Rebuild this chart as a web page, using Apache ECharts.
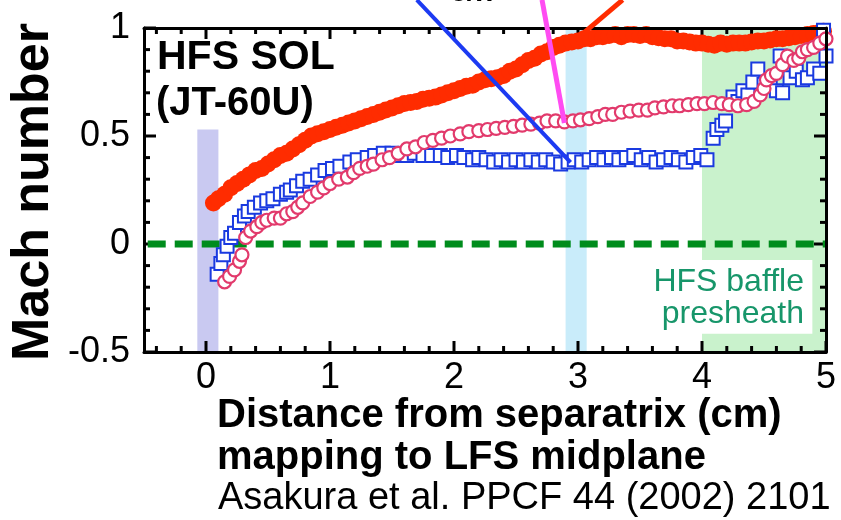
<!DOCTYPE html>
<html>
<head>
<meta charset="utf-8">
<script src="https://cdn.jsdelivr.net/npm/echarts@6/dist/echarts.min.js"></script>
<style>
html, body { margin: 0; padding: 0; background: #fff; }
#chart { width: 841px; height: 520px; }
</style>
</head>
<body>
<div id="chart"></div>
<script>
// Mach number profiles, HFS SOL (JT-60U)
var redFilled = [
    [0.06, 0.19], [0.10, 0.21], [0.15, 0.23], [0.20, 0.26], [0.25, 0.28], [0.30, 0.30],
    [0.35, 0.32], [0.40, 0.34], [0.45, 0.35], [0.50, 0.37], [0.55, 0.39], [0.60, 0.41],
    [0.65, 0.42], [0.70, 0.44], [0.75, 0.46], [0.80, 0.48], [0.85, 0.50], [0.90, 0.51],
    [0.95, 0.52], [1.00, 0.53], [1.05, 0.54], [1.10, 0.55], [1.15, 0.56], [1.20, 0.57],
    [1.25, 0.58], [1.30, 0.59], [1.35, 0.60], [1.40, 0.61], [1.45, 0.62], [1.50, 0.63],
    [1.55, 0.64], [1.60, 0.65], [1.65, 0.655], [1.70, 0.66], [1.75, 0.67], [1.80, 0.675],
    [1.85, 0.68], [1.90, 0.69], [1.95, 0.70], [2.00, 0.71], [2.05, 0.72], [2.10, 0.73],
    [2.15, 0.735], [2.20, 0.75], [2.25, 0.76], [2.30, 0.765], [2.35, 0.77], [2.40, 0.78],
    [2.45, 0.80], [2.50, 0.81], [2.55, 0.83], [2.60, 0.85], [2.65, 0.86], [2.70, 0.88],
    [2.75, 0.89], [2.80, 0.91], [2.85, 0.92], [2.90, 0.93], [2.95, 0.935], [3.00, 0.94],
    [3.05, 0.95], [3.10, 0.95], [3.15, 0.96], [3.20, 0.96], [3.25, 0.965], [3.30, 0.97],
    [3.35, 0.96], [3.40, 0.97], [3.45, 0.97], [3.50, 0.965], [3.55, 0.97], [3.60, 0.96],
    [3.65, 0.955], [3.70, 0.95], [3.75, 0.95], [3.80, 0.94], [3.85, 0.94], [3.90, 0.935],
    [3.95, 0.93], [4.00, 0.93], [4.05, 0.925], [4.10, 0.92], [4.15, 0.93], [4.20, 0.925],
    [4.25, 0.93], [4.30, 0.93], [4.35, 0.93], [4.40, 0.935], [4.45, 0.94], [4.50, 0.94],
    [4.55, 0.945], [4.60, 0.95], [4.65, 0.95], [4.70, 0.955], [4.75, 0.96], [4.80, 0.965],
    [4.85, 0.97], [4.90, 0.975], [4.95, 0.98], [4.98, 0.985]
];

var blueSquares = [
    [0.09, -0.14], [0.12, -0.09], [0.14, -0.05], [0.17, -0.01], [0.20, 0.03], [0.23, 0.05],
    [0.27, 0.10], [0.31, 0.13], [0.34, 0.15], [0.39, 0.17], [0.44, 0.19], [0.49, 0.20],
    [0.54, 0.21], [0.60, 0.23], [0.65, 0.24], [0.68, 0.25], [0.73, 0.27], [0.78, 0.29],
    [0.84, 0.30], [0.90, 0.32], [0.96, 0.34], [1.02, 0.35], [1.08, 0.36], [1.16, 0.38],
    [1.22, 0.39], [1.30, 0.40], [1.36, 0.41], [1.43, 0.42], [1.50, 0.42], [1.56, 0.41],
    [1.62, 0.41], [1.68, 0.42], [1.75, 0.41], [1.82, 0.41], [1.89, 0.41], [1.95, 0.40],
    [2.02, 0.41], [2.08, 0.40], [2.15, 0.39], [2.20, 0.40], [2.26, 0.39], [2.32, 0.38],
    [2.38, 0.39], [2.44, 0.38], [2.50, 0.39], [2.56, 0.38], [2.62, 0.39], [2.68, 0.38],
    [2.74, 0.39], [2.80, 0.38], [2.86, 0.37], [2.92, 0.38], [2.97, 0.39], [3.03, 0.38],
    [3.09, 0.39], [3.15, 0.40], [3.21, 0.39], [3.27, 0.40], [3.33, 0.39], [3.39, 0.40],
    [3.45, 0.41], [3.51, 0.39], [3.57, 0.40], [3.63, 0.38], [3.69, 0.39], [3.75, 0.40],
    [3.81, 0.39], [3.87, 0.38], [3.93, 0.40], [3.99, 0.41], [4.04, 0.39], [4.09, 0.49],
    [4.12, 0.53], [4.16, 0.55], [4.19, 0.57], [4.25, 0.68], [4.29, 0.66], [4.33, 0.71],
    [4.37, 0.69], [4.41, 0.75], [4.45, 0.81], [4.50, 0.74], [4.55, 0.73], [4.60, 0.71],
    [4.63, 0.87], [4.65, 0.70], [4.71, 0.77], [4.76, 0.80], [4.81, 0.76], [4.85, 0.77],
    [4.90, 0.81], [4.95, 0.79], [4.98, 0.99], [5.00, 0.87]
];

var pinkCircles = [
    [0.15, -0.175], [0.19, -0.15], [0.23, -0.12], [0.27, -0.08], [0.29, -0.05], [0.32, 0.03],
    [0.36, 0.06], [0.41, 0.08], [0.45, 0.10], [0.49, 0.11], [0.55, 0.12], [0.60, 0.12],
    [0.65, 0.14], [0.70, 0.15], [0.74, 0.17], [0.78, 0.19], [0.84, 0.22], [0.90, 0.24],
    [0.95, 0.26], [1.00, 0.28], [1.07, 0.30], [1.14, 0.31], [1.19, 0.33], [1.24, 0.35],
    [1.30, 0.36], [1.35, 0.37], [1.42, 0.39], [1.48, 0.40], [1.55, 0.42], [1.62, 0.44],
    [1.69, 0.45], [1.76, 0.47], [1.83, 0.48], [1.90, 0.49], [1.97, 0.50], [2.05, 0.51],
    [2.12, 0.52], [2.20, 0.525], [2.27, 0.53], [2.34, 0.535], [2.41, 0.54], [2.48, 0.545],
    [2.55, 0.55], [2.62, 0.555], [2.69, 0.56], [2.75, 0.57], [2.82, 0.57], [2.89, 0.565],
    [2.96, 0.57], [3.02, 0.575], [3.09, 0.58], [3.16, 0.59], [3.22, 0.60], [3.28, 0.60],
    [3.35, 0.61], [3.42, 0.615], [3.49, 0.62], [3.56, 0.62], [3.62, 0.63], [3.69, 0.635],
    [3.76, 0.64], [3.82, 0.64], [3.89, 0.645], [3.96, 0.65], [4.02, 0.65], [4.09, 0.655],
    [4.16, 0.65], [4.22, 0.645], [4.29, 0.64], [4.36, 0.645], [4.42, 0.66], [4.47, 0.69],
    [4.50, 0.72], [4.52, 0.76], [4.56, 0.78], [4.60, 0.79], [4.65, 0.83], [4.69, 0.87],
    [4.74, 0.85], [4.78, 0.86], [4.81, 0.89], [4.85, 0.90], [4.90, 0.91], [4.95, 0.93],
    [5.00, 0.95]
];

// pointer lines coming from labels above the frame
var pointerBlue = [[1.70, 1.13], [2.94, 0.378]];
var pointerMagenta = [[2.71, 1.13], [2.89, 0.56]];
var pointerRed = [[3.36, 1.13], [2.98, 0.945]];

var zeroLine = [[-0.47, 0], [5, 0]];

// shaded regions [x0, x1, y0, y1]
var bandProbe = [-0.07, 0.10, -0.5, 0.53];
var bandMid = [2.90, 3.07, -0.5, 1];
var bandBaffle = [4.0, 5.0, -0.5, 1];
var boxBaffleText = [4.0, 4.89, -0.415, -0.074];

var xMajor = [0, 1, 2, 3, 4, 5];
var xMinor = [-0.4, -0.2, 0.2, 0.4, 0.6, 0.8, 1.2, 1.4, 1.6, 1.8, 2.2, 2.4, 2.6, 2.8,
    3.2, 3.4, 3.6, 3.8, 4.2, 4.4, 4.6, 4.8];
var yMajor = [-0.5, 0, 0.5, 1];
var yMinor = [-0.4, -0.3, -0.2, -0.1, 0.1, 0.2, 0.3, 0.4, 0.6, 0.7, 0.8, 0.9];

var chart = echarts.init(document.getElementById('chart'));
var font = 'Liberation Sans, Arial, sans-serif';

function area(b, color) {
    return [{ coord: [b[0], b[2]], itemStyle: { color: color } }, { coord: [b[1], b[3]] }];
}

// tick list: [value, length, 0 = x tick / 1 = y tick]
var tickData = []
    .concat(xMajor.map(function (v) { return [v, 11, 0]; }))
    .concat(xMinor.map(function (v) { return [v, 6, 0]; }))
    .concat(yMajor.map(function (v) { return [v, 12, 1]; }))
    .concat(yMinor.map(function (v) { return [v, 6, 1]; }));

function renderTick(params, api) {
    var v = api.value(0), len = api.value(1), isY = api.value(2) === 1;
    var st = { stroke: '#000', lineWidth: 3 };
    var a, b;
    if (!isY) {
        a = api.coord([v, -0.5]); b = api.coord([v, 1]);
        return { type: 'group', children: [
            { type: 'line', shape: { x1: a[0], y1: a[1], x2: a[0], y2: a[1] - len }, style: st },
            { type: 'line', shape: { x1: b[0], y1: b[1], x2: b[0], y2: b[1] + len }, style: st }
        ] };
    }
    a = api.coord([-0.5, v]); b = api.coord([5, v]);
    return { type: 'group', children: [
        { type: 'line', shape: { x1: a[0], y1: a[1], x2: a[0] + len, y2: a[1] }, style: st },
        { type: 'line', shape: { x1: b[0], y1: b[1], x2: b[0] - len, y2: b[1] }, style: st }
    ] };
}

function frameAxis(pos, isX, labels) {
    var ax = {
        type: 'value', position: pos, min: -0.5, max: isX ? 5 : 1, z: 5,
        axisLine: { show: true, onZero: false, lineStyle: { color: '#000', width: 3 } },
        axisTick: { show: false },
        splitLine: { show: false },
        axisLabel: { show: false }
    };
    if (labels) {
        ax.axisLabel = { show: true, color: '#000', fontSize: 36, fontFamily: font, margin: isX ? 8 : 14 };
        if (isX) ax.axisLabel.customValues = xMajor;
    }
    if (!isX) ax.interval = 0.5;
    return ax;
}

chart.setOption({
    backgroundColor: '#fff',
    animation: false,
    grid: { left: 144, top: 28, right: 15, bottom: 168 },
    xAxis: [frameAxis('bottom', true, true), frameAxis('top', true, false)],
    yAxis: [frameAxis('left', false, true), frameAxis('right', false, false)],
    series: [
        {
            name: 'bands', type: 'line', data: [], z: 0,
            markArea: {
                silent: true,
                data: [
                    area(bandProbe, '#c9c9f1'),
                    area(bandMid, '#c9ecfa'),
                    area(bandBaffle, '#c9f2cc'),
                    area(boxBaffleText, '#ffffff')
                ]
            }
        },
        {
            name: 'ticks', type: 'custom', data: tickData, renderItem: renderTick,
            encode: { x: 0, y: 1 }, z: 1, silent: true
        },
        {
            name: 'zero', type: 'line', data: zeroLine, symbol: 'none', z: 1,
            lineStyle: { color: '#008c1c', width: 7, type: [18, 9] }
        },
        {
            name: 'M1', type: 'scatter', data: redFilled, clip: false, z: 2,
            symbol: 'circle', symbolSize: 17,
            itemStyle: { color: '#ff2c00', opacity: 1 }
        },
        {
            name: 'M2', type: 'scatter', data: blueSquares, clip: false, z: 3,
            symbol: 'rect', symbolSize: 13,
            itemStyle: { color: '#fff', borderColor: '#1a3ae0', borderWidth: 2, opacity: 1 }
        },
        {
            name: 'M3', type: 'scatter', data: pinkCircles, clip: false, z: 4,
            symbol: 'circle', symbolSize: 13,
            itemStyle: { color: '#fff', borderColor: '#e23a6c', borderWidth: 2.2, opacity: 1 }
        },
        {
            name: 'pRed', type: 'line', data: pointerRed, clip: false, symbol: 'none', z: 6,
            lineStyle: { color: '#ff2c00', width: 5 }
        },
        {
            name: 'pBlue', type: 'line', data: pointerBlue, clip: false, symbol: 'none', z: 6,
            lineStyle: { color: '#1c3af2', width: 4 }
        },
        {
            name: 'pMagenta', type: 'line', data: pointerMagenta, clip: false, symbol: 'none', z: 6,
            lineStyle: { color: '#ff4cf2', width: 5 }
        }
    ],
    graphic: [
        { type: 'text', left: 440, top: -22, z: 10,
          style: { text: '-c/n', font: 'bold 30px ' + font, fill: '#000' } },
        { type: 'text', x: 157, y: 58, z: 10,
          style: { text: 'HFS SOL', font: 'bold 41px ' + font, fill: '#000', verticalAlign: 'middle' } },
        { type: 'text', x: 156, y: 104, z: 10,
          style: { text: '(JT-60U)', font: 'bold 40px ' + font, fill: '#000', verticalAlign: 'middle' } },
        { type: 'text', x: 804, y: 282, z: 10,
          style: { text: 'HFS baffle', font: '32px ' + font, fill: '#17966a', align: 'right', verticalAlign: 'middle' } },
        { type: 'text', x: 804, y: 314, z: 10,
          style: { text: 'presheath', font: '32px ' + font, fill: '#17966a', align: 'right', verticalAlign: 'middle' } },
        { type: 'text', x: 34, y: 192, rotation: Math.PI / 2, z: 10,
          style: { text: 'Mach number', font: 'bold 52px ' + font, fill: '#000', align: 'center', verticalAlign: 'middle' } },
        { type: 'text', x: 217, y: 416, z: 10,
          style: { text: 'Distance from separatrix (cm)', font: 'bold 40px ' + font, fill: '#000', verticalAlign: 'middle' } },
        { type: 'text', x: 217, y: 458, z: 10,
          style: { text: 'mapping to LFS midplane', font: 'bold 40px ' + font, fill: '#000', verticalAlign: 'middle' } },
        { type: 'text', x: 218, y: 499, z: 10,
          style: { text: 'Asakura et al. PPCF 44 (2002) 2101', font: '38px ' + font, fill: '#000', verticalAlign: 'middle' } }
    ]
});
</script>
</body>
</html>
